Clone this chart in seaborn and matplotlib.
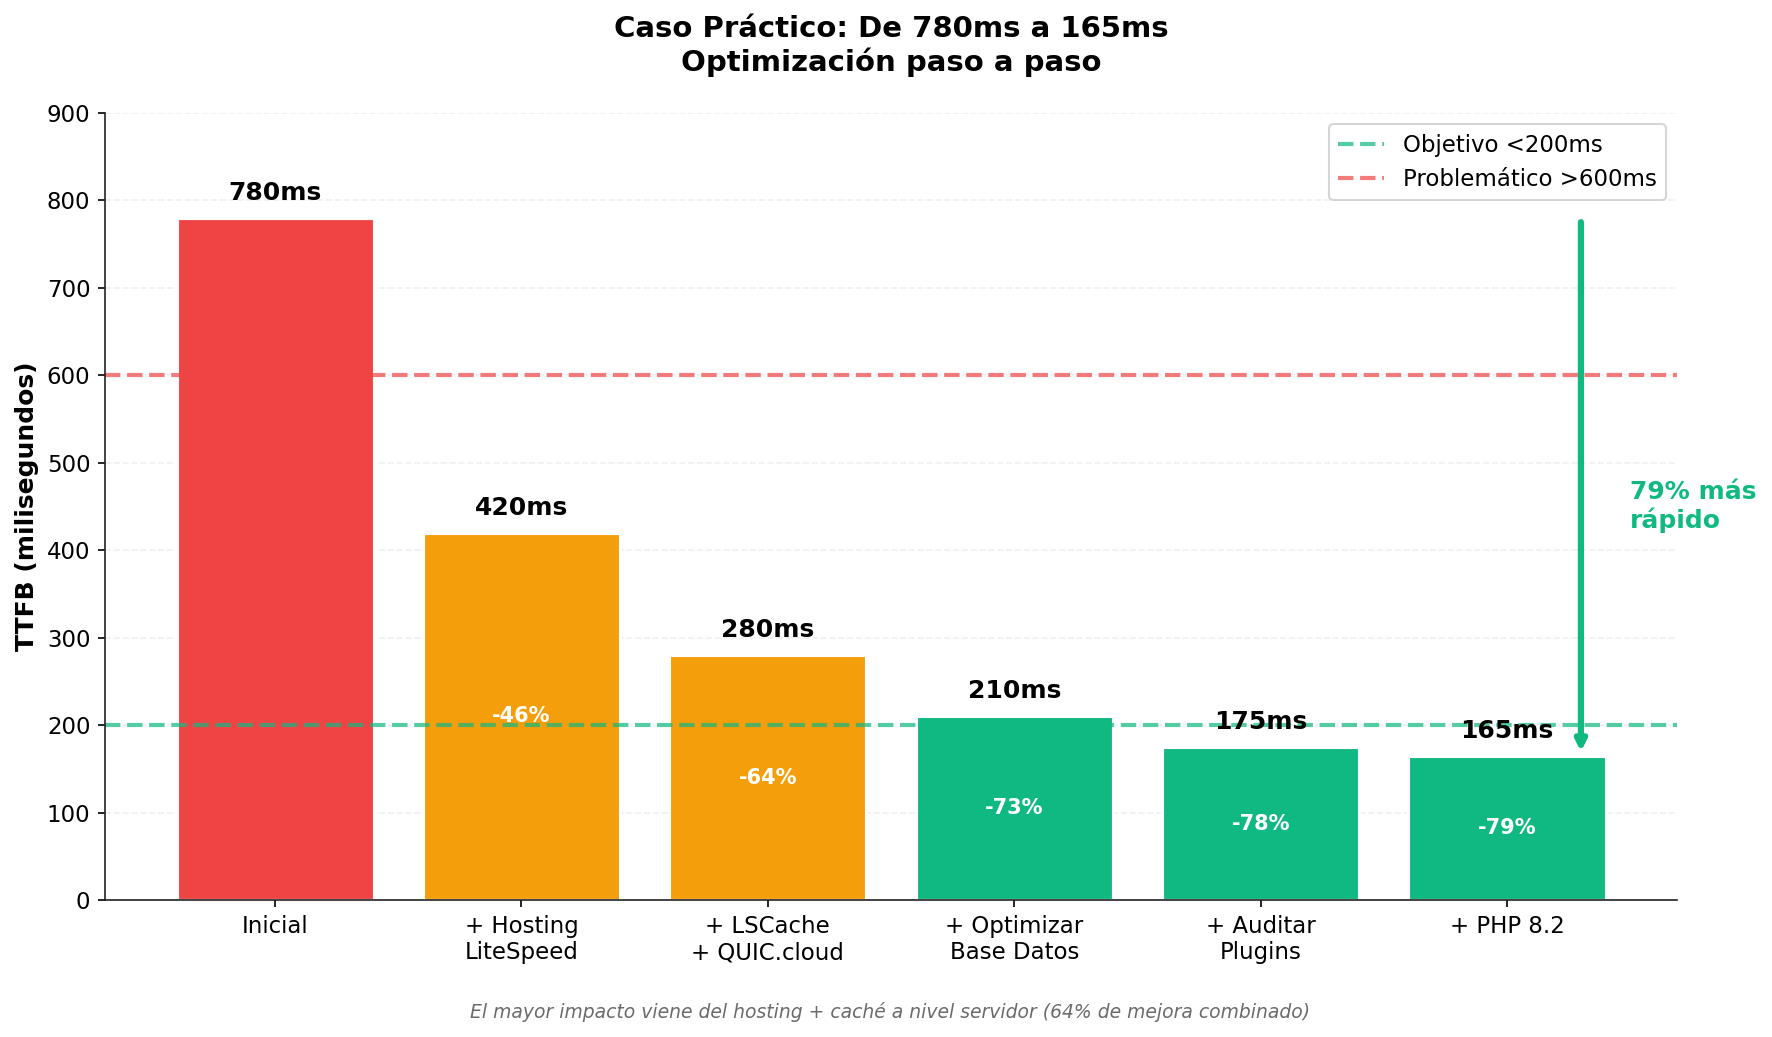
import numpy as np
import pandas as pd
import seaborn as sns
import matplotlib.pyplot as plt

# datos del caso práctico
etapas = ['Inicial', '+ Hosting\nLiteSpeed', '+ LSCache\n+ QUIC.cloud',
          '+ Optimizar\nBase Datos', '+ Auditar\nPlugins', '+ PHP 8.2']
ttfb = [780, 420, 280, 210, 175, 165]
mejoras = ['', '-46%', '-64%', '-73%', '-78%', '-79%']
colores = ['#ef4444', '#f59e0b', '#f59e0b', '#10b981', '#10b981', '#10b981']

objetivo = 200
problematico = 600

sns.set_style('ticks')
plt.rcParams['font.family'] = ['DejaVu Sans']
plt.rcParams['text.color'] = 'black'
plt.rcParams['axes.labelcolor'] = 'black'
plt.rcParams['xtick.color'] = 'black'
plt.rcParams['ytick.color'] = 'black'
plt.rcParams['axes.edgecolor'] = '#222222'

df = pd.DataFrame({'etapa': etapas, 'ttfb': ttfb})

fig, ax = plt.subplots(figsize=(1772 / 150, 1037 / 150), dpi=150)
fig.subplots_adjust(left=0.0593, right=0.9464, bottom=0.132, top=0.891)

sns.barplot(data=df, x='etapa', y='ttfb', hue='etapa', palette=colores,
            saturation=1, width=0.8, edgecolor='white', linewidth=1.5,
            legend=False, ax=ax)

ax.axhline(objetivo, color='#10b981', linestyle='--', linewidth=2, alpha=0.7,
           label='Objetivo <200ms')
ax.axhline(problematico, color='#ef4444', linestyle='--', linewidth=2, alpha=0.7,
           label='Problemático >600ms')

# etiquetas de valor y mejora
for i, (v, m) in enumerate(zip(ttfb, mejoras)):
    ax.text(i, v + 15, f'{v}ms', ha='center', va='bottom', fontsize=12,
            fontweight='bold', color='black')
    if m:
        ax.text(i, v / 2, m, ha='center', va='center', fontsize=10,
                fontweight='bold', color='white')

# flecha de mejora total
ax.annotate('', xy=(5.3, ttfb[-1]), xytext=(5.3, ttfb[0]),
            arrowprops=dict(arrowstyle='->', color='#10b981', lw=3))
ax.text(5.5, 450, '79% más\nrápido', ha='left', va='center', fontsize=12,
        fontweight='bold', color='#10b981', clip_on=False)

ax.set_xlim(-0.69, 5.69)
ax.set_ylim(0, 900)
ax.set_yticks(np.arange(0, 901, 100))
ax.set_xlabel('')
ax.set_ylabel('TTFB (milisegundos)', fontsize=12, fontweight='bold', labelpad=4)
ax.tick_params(axis='both', labelsize=11)
ax.set_title('Caso Práctico: De 780ms a 165ms\nOptimización paso a paso',
             fontsize=14, fontweight='bold', pad=20)
ax.yaxis.grid(True, linestyle='--', alpha=0.3)
ax.set_axisbelow(True)
sns.despine(ax=ax)
ax.legend(loc='upper right', fontsize=11, frameon=True)

fig.text(0.5025, 0.024,
         'El mayor impacto viene del hosting + caché a nivel servidor (64% de mejora combinado)',
         ha='center', va='center', fontsize=9, style='italic', color='#6b6b6b')

fig.savefig('out.png', dpi=150)
